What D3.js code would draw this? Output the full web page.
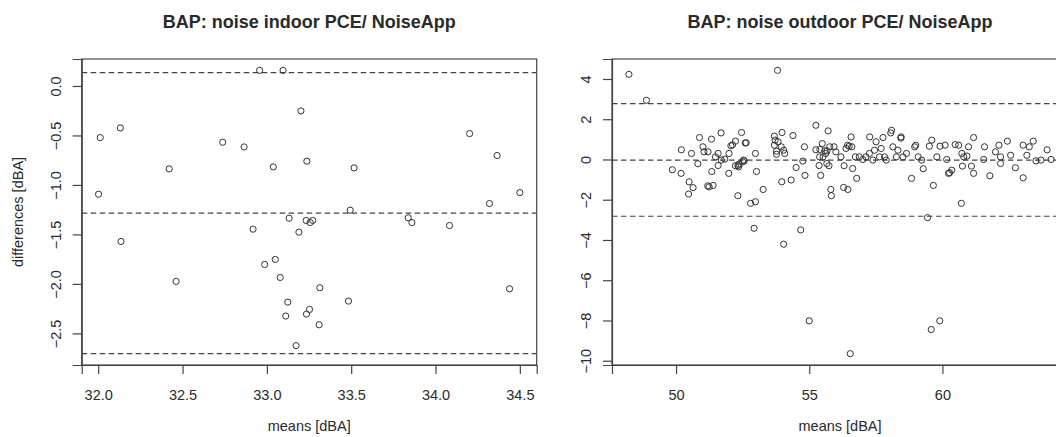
<!DOCTYPE html>
<html>
<head>
<meta charset="utf-8">
<script src="https://cdn.jsdelivr.net/npm/d3@7"></script>
<style>
  body { margin: 0; background: #fff; }
  text { font-family: "Liberation Sans", Arial, Helvetica, sans-serif; fill: #2a2a2a; }
</style>
</head>
<body>
<svg id="chart" width="1056" height="437"></svg>
<script>
// Bland-Altman data: [mean of the two devices, difference] in dBA
const indoorPoints = [
  [32.957, 0.158], [33.096, 0.158], [33.202, -0.252], [32.131, -0.424], [32.012, -0.522],
  [34.202, -0.481], [32.738, -0.569], [32.865, -0.616], [34.365, -0.703], [33.237, -0.760],
  [32.421, -0.838], [33.038, -0.818], [33.517, -0.828], [32.002, -1.094], [34.500, -1.077],
  [34.320, -1.188], [33.494, -1.255], [33.132, -1.336], [33.838, -1.332], [33.860, -1.380],
  [33.233, -1.359], [33.257, -1.380], [33.272, -1.359], [32.918, -1.447], [33.190, -1.477],
  [34.083, -1.410], [32.135, -1.571], [33.050, -1.753], [32.987, -1.803], [33.079, -1.935],
  [32.462, -1.975], [33.314, -2.039], [34.439, -2.049], [33.484, -2.174], [33.124, -2.184],
  [33.253, -2.258], [33.235, -2.305], [33.112, -2.325], [33.310, -2.413], [33.173, -2.624]
];
// limits of agreement and mean difference (upper, mean, lower)
const indoorLimits = [0.135, -1.285, -2.705];

const outdoorPoints = [
  [48.23, 4.23], [48.89, 2.94], [53.81, 4.43], [55.00, -8.02], [56.54, -9.65],
  [59.58, -8.45], [59.90, -8.02], [59.44, -2.89], [60.71, -2.18], [52.93, -3.42],
  [54.68, -3.50], [54.04, -4.21],
  [49.86, -0.51], [50.19, -0.69], [50.20, 0.48], [50.58, 0.30], [50.49, -1.11],
  [50.47, -1.72], [50.64, -1.40], [50.82, -0.21], [50.88, 1.09], [51.01, 0.63],
  [51.05, 0.38], [51.20, 0.38], [51.19, -1.31], [51.24, -1.36], [51.39, -1.29],
  [51.33, 1.01], [51.34, -0.60], [51.48, 0.13], [51.58, 0.30], [51.58, -0.30],
  [51.69, 1.32], [51.70, -0.03], [51.83, 0.02], [51.98, -0.69], [51.99, 0.30],
  [52.06, 0.68], [52.12, 0.73], [52.23, 0.91], [52.23, -0.31], [52.32, -0.30],
  [52.36, -0.23], [52.46, 1.34], [52.50, -0.12], [52.56, -0.07], [52.63, 0.83],
  [52.32, -1.80], [52.80, -2.18], [52.98, -2.10], [52.98, 0.30], [53.02, -0.60],
  [53.27, -1.49], [53.69, 1.16], [53.72, 0.96], [53.69, 0.71], [53.77, 0.41],
  [53.77, 0.26], [53.83, 0.88], [53.98, 1.34], [53.95, 0.63], [54.08, 0.30],
  [53.97, -1.11], [54.32, -1.02], [54.39, 1.19], [54.51, -0.40], [54.76, -0.08],
  [54.84, -0.79], [55.25, 1.70], [55.71, 1.42],
  [54.82, 0.63], [55.25, 0.48], [55.40, 0.50], [55.49, 0.79], [55.58, 0.43],
  [55.67, 0.43], [55.62, 0.30], [55.77, 0.63], [55.93, 0.63], [56.00, 0.38],
  [55.39, 0.13], [55.52, 0.13], [55.66, -0.20], [55.74, -0.31], [55.37, -0.30],
  [55.43, -0.79], [55.81, -1.49], [55.83, -1.80], [56.29, -1.39], [56.45, -1.49],
  [56.78, -0.94], [56.19, 0.13], [56.38, 0.55], [56.44, 0.71], [56.50, 0.66],
  [56.31, -0.31], [56.63, -0.45], [56.60, 0.63], [56.57, 1.12], [56.73, 0.13],
  [56.88, 0.13], [57.01, 0.00], [57.13, 0.13], [57.26, 0.30], [57.39, -0.03],
  [57.27, 1.12], [57.45, 0.46], [57.51, 0.88], [57.64, 0.13], [57.70, 0.55],
  [57.77, 1.09], [57.83, 0.13], [57.89, -0.03], [58.06, 1.32], [58.09, 1.45],
  [58.14, 0.63], [58.27, 0.13], [58.33, 0.46], [58.45, 1.12], [58.52, 0.13],
  [58.65, 0.30], [58.84, -0.94], [58.96, 0.63], [59.09, 0.13], [59.22, -0.03],
  [59.28, -0.46], [59.51, 0.66], [59.60, 0.96], [59.79, 0.13], [59.91, 0.66],
  [59.66, -1.29], [60.10, 0.71], [60.16, 0.00], [60.23, -0.69], [60.35, -0.53],
  [60.48, 0.74], [60.61, 0.71], [60.73, 0.30], [60.80, 0.13], [60.92, 0.17],
  [60.98, 0.63], [61.09, -0.33], [61.17, 1.09], [61.17, -0.69], [61.55, 0.00],
  [61.58, 0.63], [61.78, -0.81], [61.99, 0.38], [62.12, 0.71], [62.18, 0.13],
  [62.18, -0.20], [62.44, 0.91], [62.56, 0.21], [62.74, -0.41], [63.03, -0.91],
  [63.03, 0.71], [63.17, 0.21], [63.26, 0.63], [63.41, 0.91], [63.51, -0.07],
  [63.70, -0.03], [63.93, 0.48], [64.08, 0.00],
  [58.44, 1.06], [59.00, 0.71], [60.27, -0.66], [60.75, -0.33], [52.35, -0.37],
  [52.53, -0.03], [54.04, 0.46], [52.60, 0.82]
];
const outdoorLimits = [2.78, -0.03, -2.82];

const indoorXTicks = [32.0, 32.5, 33.0, 33.5, 34.0, 34.5];
const indoorYTicks = [0.0, -0.5, -1.0, -1.5, -2.0, -2.5];
const outdoorXTicks = [50, 55, 60, 65];
const outdoorYTicks = [4, 2, 0, -2, -4, -6, -8, -10];

const titles = ["BAP: noise indoor PCE/ NoiseApp", "BAP: noise outdoor PCE/ NoiseApp"];
const xLabel = "means [dBA]";
const yLabel = "differences [dBA]";

const svg = d3.select("#chart");
const ink = "#333";
const frameInk = "#444";

// pad a range by 4% on each side, like base-graphics default axes
function padded(lo, hi) {
  const p = (hi - lo) * 0.04;
  return [lo - p, hi + p];
}

function panel(opts) {
  const { box, points, limits, xTicks, yTicks, fmt, title, showYLabel } = opts;
  const g = svg.append("g");
  const xs = points.map(d => d[0]);
  const ys = points.map(d => d[1]).concat(opts.limitsInRange ? limits : []);
  const x = d3.scaleLinear().domain(padded(d3.min(xs), d3.max(xs))).range([box.l, box.r]);
  const y = d3.scaleLinear().domain(padded(d3.min(ys), d3.max(ys))).range([box.b, box.t]);

  const clipId = "clip" + Math.round(box.l);
  svg.append("clipPath").attr("id", clipId)
    .append("rect").attr("x", box.l).attr("y", box.t)
    .attr("width", box.r - box.l).attr("height", box.b - box.t);

  // limits of agreement
  g.append("g").attr("clip-path", `url(#${clipId})`)
    .selectAll("line").data(limits).join("line")
    .attr("x1", box.l).attr("x2", box.r)
    .attr("y1", d => y(d)).attr("y2", d => y(d))
    .attr("stroke", frameInk).attr("stroke-width", 1.2)
    .attr("stroke-dasharray", "5.5,3.5");

  // points
  g.append("g").selectAll("circle").data(points).join("circle")
    .attr("cx", d => x(d[0])).attr("cy", d => y(d[1]))
    .attr("r", 3.1).attr("fill", "none")
    .attr("stroke", ink).attr("stroke-width", 1);

  // frame
  g.append("rect").attr("x", box.l).attr("y", box.t)
    .attr("width", box.r - box.l).attr("height", box.b - box.t)
    .attr("fill", "none").attr("stroke", frameInk).attr("stroke-width", 1.2);

  const xt = xTicks.filter(t => t >= x.domain()[0] && t <= x.domain()[1]);
  const yt = yTicks.filter(t => t >= y.domain()[0] && t <= y.domain()[1]);

  // bottom axis
  const xAxis = d3.axisBottom(x).tickValues(xt).tickFormat(fmt).tickSizeOuter(0).tickSize(9);
  const gx = g.append("g").attr("transform", `translate(0,${box.b})`).call(xAxis);
  // left axis
  const yAxis = d3.axisLeft(y).tickValues(yt).tickFormat(fmt).tickSizeOuter(0).tickSize(9);
  const gy = g.append("g").attr("transform", `translate(${box.l},0)`).call(yAxis);

  [gx, gy].forEach(a => {
    a.select(".domain").attr("stroke", frameInk).attr("stroke-width", 1.2);
    a.selectAll(".tick line").attr("stroke", frameInk).attr("stroke-width", 1.2);
    a.selectAll("text").attr("font-size", 14.5).attr("fill", "#2a2a2a")
      .attr("font-family", '"Liberation Sans", Arial, sans-serif');
  });
  gx.selectAll(".tick text").attr("dy", null).attr("y", 0)
    .attr("transform", "translate(0,35)");
  gy.selectAll(".tick text")
    .attr("x", null).attr("dy", null)
    .attr("text-anchor", "middle")
    .attr("transform", "translate(-21,0) rotate(-90)");

  const cx = (box.l + box.r) / 2;
  g.append("text").attr("x", cx).attr("y", 28).attr("text-anchor", "middle")
    .attr("font-size", 18).attr("font-weight", "bold").attr("fill", "#111").text(title);
  g.append("text").attr("x", cx).attr("y", 431).attr("text-anchor", "middle")
    .attr("font-size", 14.5).text(xLabel);
  if (showYLabel) {
    g.append("text").attr("transform", `translate(23,${(box.t + box.b) / 2}) rotate(-90)`)
      .attr("text-anchor", "middle").attr("font-size", 14.5).text(yLabel);
  }
}

panel({
  box: { l: 81.7, r: 536.7, t: 59, b: 365 },
  points: indoorPoints, limits: indoorLimits, limitsInRange: true,
  xTicks: indoorXTicks, yTicks: indoorYTicks, fmt: d3.format(".1f"),
  title: titles[0], showYLabel: true
});
panel({
  box: { l: 612, r: 1068, t: 59, b: 365 },
  points: outdoorPoints, limits: outdoorLimits, limitsInRange: false,
  xTicks: outdoorXTicks, yTicks: outdoorYTicks, fmt: d3.format("d"),
  title: titles[1], showYLabel: false
});
</script>
</body>
</html>
